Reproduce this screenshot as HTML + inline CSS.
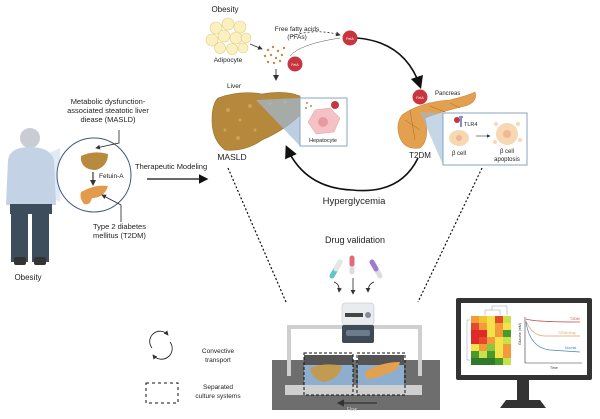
<!DOCTYPE html>
<html><head><meta charset="utf-8"><style>
html,body{margin:0;padding:0;background:#fff;}
svg{display:block;font-family:"Liberation Sans",sans-serif;}
</style></head><body>
<svg width="600" height="419" viewBox="0 0 600 419" xmlns="http://www.w3.org/2000/svg">
<defs>
<marker id="ah" markerWidth="8" markerHeight="8" refX="6" refY="4" orient="auto"><path d="M0,0 L8,4 L0,8 Z" fill="#111"/></marker>
<marker id="ahs" markerWidth="6" markerHeight="6" refX="5" refY="3" orient="auto"><path d="M0,0 L6,3 L0,6 Z" fill="#333"/></marker>
</defs>
<!-- person -->
<path d="M34,160 L60,148 L60,202 L34,190 Z" fill="#dbe6f2" opacity="0.8"/>
<circle cx="30" cy="138" r="10" fill="#c9cdd3"/>
<path d="M8,160 Q10,147 30,147 Q50,147 54,160 L56,205 L6,205 Z" fill="#c3d2e4"/>
<rect x="10" y="204" width="42" height="10" fill="#3e4d5c"/>
<rect x="11" y="212" width="17" height="50" fill="#3e4d5c"/>
<rect x="32" y="212" width="17" height="50" fill="#3e4d5c"/>
<rect x="14" y="257" width="12" height="8" rx="2" fill="#333"/>
<rect x="34" y="257" width="12" height="8" rx="2" fill="#333"/>
<text x="28" y="280" font-size="8" text-anchor="middle" fill="#222">Obesity</text>
<!-- zoom circle -->
<circle cx="94" cy="175" r="37" fill="#fff" stroke="#3d5a80" stroke-width="1"/>
<path d="M81,156 Q94,150 108,154 Q108,166 96,170 Q83,170 81,160 Z" fill="#b88a3d"/>
<path d="M81,192 Q95,184 108,186 Q104,198 92,198 Q90,206 84,204 Q79,198 81,192 Z" fill="#e39a4c"/>
<line x1="93" y1="172" x2="93" y2="185" stroke="#111" stroke-width="1" marker-end="url(#ahs)"/>
<text x="99" y="178" font-size="6.5" fill="#222">Fetuin-A</text>
<text font-size="7.5" fill="#222" text-anchor="middle"><tspan x="108" y="104">Metabolic dysfunction-</tspan><tspan x="108" y="113">associated steatotic liver</tspan><tspan x="108" y="122">diease (MASLD)</tspan></text>
<path d="M119,130 L119,143 L96,148" fill="none" stroke="#222" stroke-width="0.8" marker-end="url(#ahs)"/>
<path d="M121,222 L121,205 L102,195" fill="none" stroke="#222" stroke-width="0.8" marker-end="url(#ahs)"/>
<text font-size="7.5" fill="#222"><tspan x="93" y="229">Type 2 diabetes</tspan><tspan x="93" y="238">mellitus (T2DM)</tspan></text>
<text x="135" y="169" font-size="7.5" fill="#222">Therapeutic Modeling</text>
<line x1="147" y1="179" x2="206" y2="179" stroke="#111" stroke-width="1.2" marker-end="url(#ah)"/>
<!-- top -->
<text x="225" y="12" font-size="8" text-anchor="middle" fill="#222">Obesity</text>
<g fill="#fbf0c0" stroke="#e0cd85" stroke-width="0.6">
<circle cx="216" cy="28" r="6"/><circle cx="228" cy="24" r="6"/><circle cx="240" cy="27" r="6"/><circle cx="212" cy="40" r="6"/><circle cx="224" cy="36" r="6"/><circle cx="236" cy="38" r="6"/><circle cx="246" cy="38" r="5"/><circle cx="220" cy="48" r="5.5"/><circle cx="232" cy="49" r="5.5"/><circle cx="243" cy="48" r="5"/>
</g>
<text x="228" y="62" font-size="6.5" text-anchor="middle" fill="#222">Adipocyte</text>
<line x1="250" y1="44" x2="262" y2="49" stroke="#333" stroke-width="0.8" marker-end="url(#ahs)"/>
<text font-size="6.5" text-anchor="middle" fill="#222"><tspan x="297" y="31">Free fatty acids</tspan><tspan x="297" y="39">(FFAs)</tspan></text>
<g fill="#c88a3c"><circle cx="268" cy="50" r="1.2"/><circle cx="273" cy="47" r="1.2"/><circle cx="278" cy="51" r="1.2"/><circle cx="265" cy="56" r="1.2"/><circle cx="271" cy="55" r="1.2"/><circle cx="276" cy="58" r="1.2"/><circle cx="282" cy="55" r="1.2"/><circle cx="268" cy="62" r="1.2"/><circle cx="274" cy="63" r="1.2"/><circle cx="280" cy="61" r="1.2"/><circle cx="284" cy="48" r="1.2"/></g>
<line x1="276" y1="69" x2="276" y2="80" stroke="#444" stroke-width="1" marker-end="url(#ahs)"/>
<path d="M292,36 Q315,28 340,35" fill="none" stroke="#333" stroke-width="0.8" stroke-dasharray="2,2" marker-end="url(#ahs)"/>
<!-- big cycle -->
<path d="M357,38 Q405,42 420,86" fill="none" stroke="#111" stroke-width="1.6" marker-end="url(#ah)"/>
<path d="M418,158 Q400,195 352,190 Q305,188 287,148" fill="none" stroke="#111" stroke-width="1.6" marker-end="url(#ah)"/>
<path d="M290,56 Q300,44 340,38" fill="none" stroke="#555" stroke-width="0.5"/>
<g font-size="3.5" fill="#fff" text-anchor="middle">
<circle cx="350" cy="38" r="7.5" fill="#c9353f"/><text x="350" y="40">FetA</text>
<circle cx="295" cy="64" r="7.5" fill="#c9353f"/><text x="295" y="66">FetA</text>
<circle cx="420" cy="97" r="7.5" fill="#c9353f"/><text x="420" y="99">FetA</text>
</g>
<!-- liver -->
<text x="234" y="88" font-size="6.5" text-anchor="middle" fill="#222">Liver</text>
<path d="M218,98 Q240,90 262,94 Q285,90 300,96 L300,115 Q285,130 262,140 Q245,152 225,150 Q212,140 212,120 Q212,104 218,98 Z" fill="#b5883c" stroke="#96702e" stroke-width="0.6"/>
<g fill="#d2a95d" opacity="0.8"><circle cx="228" cy="110" r="2"/><circle cx="240" cy="120" r="1.5"/><circle cx="250" cy="106" r="2"/><circle cx="225" cy="130" r="1.5"/><circle cx="238" cy="138" r="2"/><circle cx="270" cy="104" r="1.5"/><circle cx="255" cy="130" r="1.5"/><circle cx="285" cy="102" r="1.5"/></g>
<path d="M256,100 L300,98 L300,146 Z" fill="#9fbbd6" opacity="0.7"/>
<rect x="300" y="98" width="47" height="48" fill="#fff" stroke="#8aa4bf" stroke-width="1"/>
<path d="M315,110 L330,108 L340,118 L334,132 L316,134 L308,122 Z" fill="#f4c2c4" stroke="#d9a0a4" stroke-width="0.5"/>
<circle cx="323" cy="122" r="5" fill="#e79aa0"/>
<g fill="#c88a3c"><circle cx="307" cy="103" r="1"/><circle cx="311" cy="106" r="1"/><circle cx="306" cy="108" r="1"/></g>
<circle cx="335" cy="105" r="4" fill="#c9353f"/>
<text x="323" y="142" font-size="5.5" text-anchor="middle" fill="#222">Hepatocyte</text>
<text x="232" y="160" font-size="8.5" text-anchor="middle" fill="#222">MASLD</text>
<!-- pancreas -->
<text x="435" y="95" font-size="6" fill="#222">Pancreas</text>
<path d="M402,115 Q420,102 450,100 Q470,95 475,92 Q478,102 465,106 Q440,112 425,118 Q430,140 420,148 Q405,150 400,138 Q395,125 402,115 Z" fill="#e3a04f" stroke="#c9853a" stroke-width="0.6"/>
<path d="M405,120 L420,130 M410,110 L415,140 M430,106 L445,112 M450,103 L460,108" stroke="#a86a2a" stroke-width="0.5"/>
<path d="M420,112 L443,113 L443,165 Z" fill="#9fbbd6" opacity="0.6"/>
<rect x="443" y="113" width="84" height="52" fill="#fff" stroke="#8aa4bf" stroke-width="1"/>
<circle cx="457" cy="120" r="3" fill="#c9353f"/>
<path d="M461,118 L461,127 M459,117 L463,117" stroke="#5a6fae" stroke-width="1.5"/>
<text x="464" y="126" font-size="5.5" fill="#222">TLR4</text>
<ellipse cx="459" cy="138" rx="10" ry="8" fill="#f8d7b3"/><circle cx="459" cy="138" r="3" fill="#efb98f"/>
<text x="459" y="155" font-size="6" text-anchor="middle" fill="#222">β cell</text>
<line x1="476" y1="136" x2="490" y2="136" stroke="#333" stroke-width="0.6" marker-end="url(#ahs)"/>
<circle cx="507" cy="134" r="11" fill="#f8d7b3"/><circle cx="507" cy="134" r="4" fill="#efb98f"/>
<g fill="#f8d7b3"><circle cx="496" cy="124" r="2"/><circle cx="518" cy="124" r="2"/><circle cx="520" cy="140" r="2"/><circle cx="495" cy="142" r="2"/></g>
<text font-size="6" text-anchor="middle" fill="#222"><tspan x="507" y="153">β cell</tspan><tspan x="507" y="161">apoptosis</tspan></text>
<text x="420" y="158" font-size="8" text-anchor="middle" fill="#222">T2DM</text>
<text x="354" y="204" font-size="9.5" text-anchor="middle" fill="#222">Hyperglycemia</text>
<!-- dotted -->
<line x1="228" y1="168" x2="286" y2="302" stroke="#111" stroke-width="1.2" stroke-dasharray="2,2"/>
<line x1="482" y1="168" x2="418" y2="302" stroke="#111" stroke-width="1.2" stroke-dasharray="2,2"/>
<!-- drug -->
<text x="355" y="243" font-size="9" text-anchor="middle" fill="#222">Drug validation</text>
<g stroke-linecap="round" stroke-width="5">
<line x1="332" y1="276" x2="340" y2="262" stroke="#5fc6c8"/><line x1="336" y1="269" x2="340" y2="262" stroke="#e6e6e6"/>
<line x1="352" y1="258" x2="352" y2="272" stroke="#ddd"/><line x1="352" y1="258" x2="352" y2="264" stroke="#e06b7d"/>
<line x1="380" y1="276" x2="372" y2="262" stroke="#ddd"/><line x1="376" y1="269" x2="372" y2="262" stroke="#9c7ad0"/>
</g>
<g fill="none" stroke="#222" stroke-width="0.8">
<path d="M334,282 Q340,284 339,292" marker-end="url(#ahs)"/>
<path d="M353,278 L353,294" marker-end="url(#ahs)"/>
<path d="M374,282 Q368,284 368,292" marker-end="url(#ahs)"/>
</g>
<!-- device -->
<rect x="272" y="360" width="168" height="50" fill="#6e6e6e"/>
<path d="M289,376 L289,327 L420,327 L420,376" fill="none" stroke="#cfcfcf" stroke-width="4"/>
<rect x="304" y="355" width="49" height="40" fill="#8eaed0"/>
<rect x="358" y="355" width="46" height="40" fill="#8eaed0"/>
<rect x="304" y="355" width="49" height="10" fill="#555"/>
<rect x="358" y="355" width="46" height="10" fill="#555"/>
<rect x="285" y="385" width="137" height="10" fill="#cfcfcf"/>
<path d="M310,368 Q325,362 342,366 Q340,378 325,382 Q312,380 310,368 Z" fill="#c29a52"/>
<path d="M365,372 Q380,362 400,362 Q398,372 385,374 Q375,380 366,378 Z" fill="#e3a04f"/>
<rect x="304" y="353" width="49" height="42" fill="none" stroke="#111" stroke-width="1" stroke-dasharray="3,2"/>
<rect x="357" y="353" width="48" height="42" fill="none" stroke="#111" stroke-width="1" stroke-dasharray="3,2"/>
<line x1="377" y1="403" x2="338" y2="403" stroke="#333" stroke-width="1.2" marker-end="url(#ahs)"/>
<text x="352" y="411" font-size="5" text-anchor="middle" fill="#ccc">Flow</text>
<!-- pump -->
<rect x="342" y="303" width="32" height="22" rx="3" fill="#e9ecef" stroke="#bbb" stroke-width="0.5"/>
<rect x="345" y="313" width="18" height="4" fill="#444"/><circle cx="368" cy="315" r="3" fill="#889"/>
<rect x="342" y="325" width="32" height="18" rx="2" fill="#3e4a56"/>
<rect x="346" y="330" width="24" height="6" rx="2" fill="#6d7c8c"/>
<!-- legend -->
<path d="M152,348 A10,10 0 0 1 168,335" fill="none" stroke="#111" stroke-width="0.8" marker-end="url(#ahs)"/>
<path d="M170,342 A10,10 0 0 1 153,355" fill="none" stroke="#111" stroke-width="0.8" marker-end="url(#ahs)"/>
<text font-size="6.5" text-anchor="middle" fill="#222"><tspan x="218" y="353">Convective</tspan><tspan x="218" y="362">transport</tspan></text>
<rect x="146" y="383" width="32" height="20" fill="none" stroke="#111" stroke-width="1" stroke-dasharray="3,3"/>
<text font-size="6.5" text-anchor="middle" fill="#222"><tspan x="218" y="389">Separated</tspan><tspan x="218" y="398">culture systems</tspan></text>
<!-- monitor -->
<rect x="456" y="298" width="136" height="82" rx="2" fill="#333"/>
<rect x="461" y="303" width="126" height="72" fill="#fff"/>
<rect x="517" y="380" width="12" height="20" fill="#333"/>
<path d="M500,408 L546,408 L540,400 L506,400 Z" fill="#333"/>
<g>
<rect x="471" y="316" width="8" height="7" fill="#f39b3b"/><rect x="479" y="316" width="8" height="7" fill="#f1c232"/><rect x="487" y="316" width="8" height="7" fill="#f5e24a"/><rect x="495" y="316" width="8" height="7" fill="#e34a2a"/><rect x="503" y="316" width="8" height="7" fill="#c8e04a"/>
<rect x="471" y="323" width="8" height="7" fill="#e34a2a"/><rect x="479" y="323" width="8" height="7" fill="#f39b3b"/><rect x="487" y="323" width="8" height="7" fill="#f5e24a"/><rect x="495" y="323" width="8" height="7" fill="#f39b3b"/><rect x="503" y="323" width="8" height="7" fill="#f5e24a"/>
<rect x="471" y="330" width="8" height="7" fill="#e02a2a"/><rect x="479" y="330" width="8" height="7" fill="#e02a2a"/><rect x="487" y="330" width="8" height="7" fill="#f5e24a"/><rect x="495" y="330" width="8" height="7" fill="#f39b3b"/><rect x="503" y="330" width="8" height="7" fill="#4a9a2a"/>
<rect x="471" y="337" width="8" height="7" fill="#e02a2a"/><rect x="479" y="337" width="8" height="7" fill="#e34a2a"/><rect x="487" y="337" width="8" height="7" fill="#f39b3b"/><rect x="495" y="337" width="8" height="7" fill="#f5e24a"/><rect x="503" y="337" width="8" height="7" fill="#c8e04a"/>
<rect x="471" y="344" width="8" height="7" fill="#f5e24a"/><rect x="479" y="344" width="8" height="7" fill="#f39b3b"/><rect x="487" y="344" width="8" height="7" fill="#8cc63a"/><rect x="495" y="344" width="8" height="7" fill="#f5e24a"/><rect x="503" y="344" width="8" height="7" fill="#f39b3b"/>
<rect x="471" y="351" width="8" height="7" fill="#4a9a2a"/><rect x="479" y="351" width="8" height="7" fill="#c8e04a"/><rect x="487" y="351" width="8" height="7" fill="#4a9a2a"/><rect x="495" y="351" width="8" height="7" fill="#f5e24a"/><rect x="503" y="351" width="8" height="7" fill="#f39b3b"/>
<rect x="471" y="358" width="8" height="7" fill="#2f7a2a"/><rect x="479" y="358" width="8" height="7" fill="#2f7a2a"/><rect x="487" y="358" width="8" height="7" fill="#2f7a2a"/><rect x="495" y="358" width="8" height="7" fill="#4a9a2a"/><rect x="503" y="358" width="8" height="7" fill="#c8e04a"/>
</g>
<path d="M485,315 L485,310 L500,310 L500,315 M492,310 L492,306 L507,306 L507,315 M470,320 L467,320 L467,360 L470,360" fill="none" stroke="#999" stroke-width="0.5"/>
<path d="M525,317 L525,363 L582,363" fill="none" stroke="#333" stroke-width="0.6"/>
<path d="M526,319 Q535,322 580,322" fill="none" stroke="#c0504d" stroke-width="0.7"/>
<path d="M526,321 Q532,336 545,336 L580,336" fill="none" stroke="#e8a060" stroke-width="0.7"/>
<path d="M526,322 Q530,348 550,350 L580,352" fill="none" stroke="#4a7fc0" stroke-width="0.7"/>
<text x="570" y="320" font-size="3.5" fill="#c0504d">T2DM</text>
<text x="558" y="334" font-size="3.5" fill="#e8a060">T2DM drug</text>
<text x="565" y="349" font-size="3.5" fill="#4a7fc0">Normal</text>
<text x="550" y="369" font-size="3.5" fill="#333">Time</text>
<text x="521" y="345" font-size="3.5" fill="#333" transform="rotate(-90 521 345)">Glucose (mM)</text>
</svg>
</body></html>
